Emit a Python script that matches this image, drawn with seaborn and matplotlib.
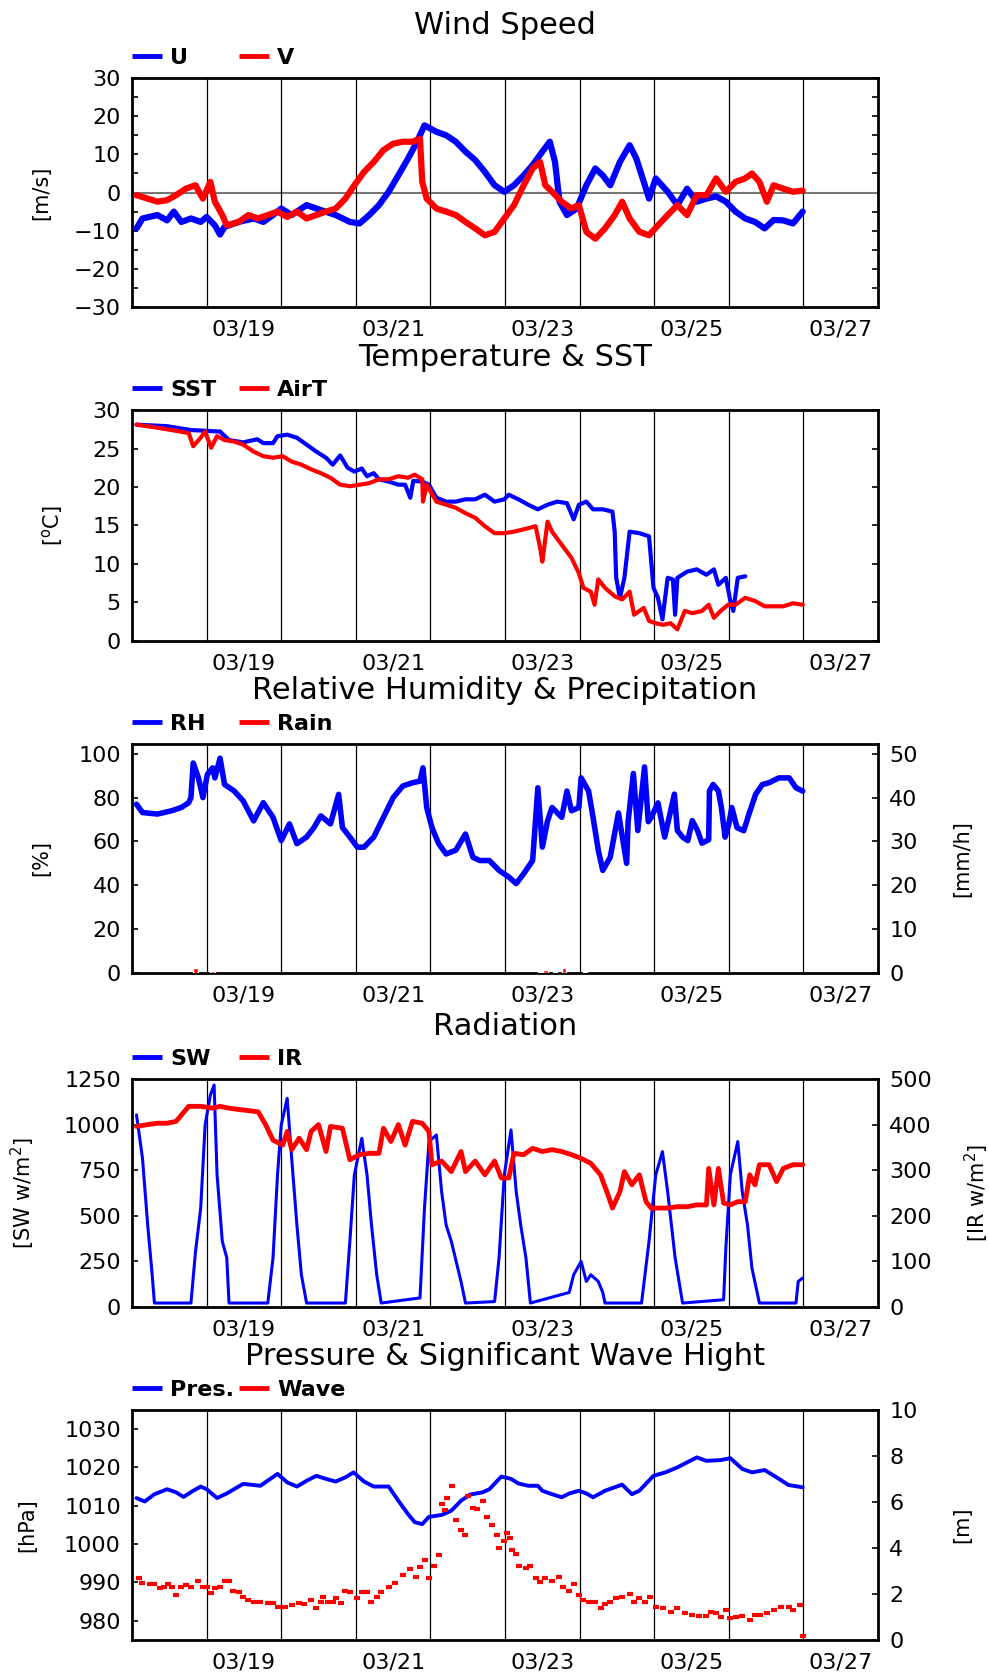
import numpy as np
import matplotlib
matplotlib.use("Agg")
import matplotlib.pyplot as plt
import seaborn as sns
from matplotlib.lines import Line2D
from matplotlib.ticker import MultipleLocator

# ---------------- data (day of March) ----------------
day_lines = [18.5, 19.5, 20.5, 21.5, 22.5, 23.5, 24.5, 25.5, 26.5]
xtick_pos = [19, 21, 23, 25, 27]
xtick_labels = ['03/19', '03/21', '03/23', '03/25', '03/27']

u_t = [17.56,17.64,17.84,17.97,18.06,18.16,18.29,18.42,18.50,18.61,18.68,18.74,18.93,19.13,19.26,19.39,19.50,19.64,19.84,20.03,20.23,20.42,20.55,20.68,20.81,20.94,21.07,21.20,21.32,21.42,21.58,21.71,21.84,21.97,22.10,22.23,22.36,22.49,22.62,22.75,22.87,23.00,23.10,23.17,23.23,23.33,23.46,23.59,23.71,23.81,23.91,24.04,24.17,24.26,24.36,24.43,24.52,24.68,24.81,24.94,25.07,25.20,25.33,25.46,25.59,25.72,25.85,25.98,26.10,26.23,26.36,26.49]
u_v = [-9.4,-6.8,-5.9,-7.3,-5.0,-7.7,-6.8,-7.7,-6.4,-8.6,-11.0,-9.0,-7.7,-6.8,-7.7,-5.9,-4.2,-5.9,-3.3,-4.6,-5.9,-7.7,-8.1,-5.9,-3.3,0.2,4.5,8.9,13.3,17.6,15.9,15.0,13.3,10.7,8.5,5.4,1.9,0.2,1.9,4.5,7.2,10.7,13.3,8.0,-2.4,-5.9,-4.2,1.9,6.3,4.5,1.9,8.0,12.4,8.9,2.8,-1.6,3.7,0.2,-3.3,1.0,-2.4,-1.6,-1.0,-2.4,-5.0,-6.8,-7.7,-9.4,-7.2,-7.3,-8.1,-5.0]

v_t = [17.56,17.71,17.84,17.97,18.09,18.22,18.35,18.45,18.55,18.61,18.71,18.77,18.93,19.06,19.19,19.32,19.45,19.58,19.71,19.84,19.97,20.10,20.23,20.36,20.48,20.61,20.74,20.87,21.00,21.13,21.26,21.36,21.39,21.45,21.58,21.71,21.84,21.97,22.10,22.23,22.36,22.49,22.62,22.75,22.87,22.97,23.04,23.13,23.26,23.39,23.49,23.59,23.71,23.84,23.97,24.07,24.17,24.30,24.43,24.55,24.68,24.81,24.94,25.07,25.20,25.33,25.46,25.59,25.72,25.81,25.91,26.01,26.10,26.23,26.36,26.49]
v_v = [-0.7,-1.6,-2.4,-2.0,-0.7,1.0,1.9,-1.6,2.8,-2.4,-5.9,-8.6,-7.7,-5.9,-6.8,-5.9,-5.0,-6.4,-5.0,-6.8,-5.9,-5.0,-4.2,-1.6,1.9,5.4,8.0,11.1,12.8,13.3,13.3,14.1,2.8,-1.6,-4.2,-5.0,-5.9,-7.7,-9.4,-11.2,-10.3,-6.8,-3.3,1.9,6.3,8.0,1.9,0.2,-2.4,-4.2,-3.3,-10.3,-12.1,-9.4,-5.9,-2.4,-6.8,-10.3,-11.2,-8.6,-5.9,-3.3,-5.9,-0.7,-0.7,3.7,0.2,2.8,3.7,5.0,2.8,-2.4,1.9,1.0,0.2,0.5]

sst_t = [17.56,17.97,18.29,18.68,18.80,18.99,19.18,19.26,19.39,19.45,19.58,19.71,19.84,19.97,20.10,20.19,20.29,20.39,20.48,20.58,20.65,20.74,20.81,20.94,21.07,21.16,21.23,21.27,21.39,21.48,21.58,21.71,21.84,21.97,22.10,22.23,22.36,22.49,22.55,22.68,22.81,22.94,23.07,23.20,23.33,23.42,23.49,23.59,23.68,23.81,23.94,23.97,23.99,24.04,24.10,24.17,24.30,24.43,24.49,24.55,24.61,24.68,24.75,24.78,24.81,24.94,25.07,25.20,25.30,25.36,25.46,25.52,25.56,25.62,25.72]
sst_v = [28.1,27.9,27.4,27.2,26.1,25.8,26.2,25.7,25.7,26.6,26.8,26.4,25.5,24.6,23.8,22.9,24.1,22.5,22.0,22.4,21.4,21.8,21.0,20.7,20.3,20.3,18.6,20.8,20.7,20.3,18.6,18.1,18.1,18.4,18.4,19.0,18.1,18.4,19.0,18.4,17.7,17.1,17.7,18.1,17.9,15.8,17.7,18.1,17.1,17.1,16.8,14.2,8.2,5.6,8.2,14.2,14.0,13.6,6.9,5.6,2.8,8.2,8.0,3.4,8.2,9.0,9.3,8.6,9.3,7.3,8.2,5.2,3.9,8.2,8.4]

at_t = [17.56,17.84,18.09,18.26,18.32,18.42,18.48,18.56,18.64,18.74,18.87,18.99,19.13,19.26,19.39,19.52,19.64,19.77,19.90,20.03,20.16,20.29,20.42,20.55,20.68,20.81,20.94,21.07,21.20,21.29,21.39,21.40,21.45,21.58,21.71,21.84,21.97,22.10,22.23,22.36,22.49,22.62,22.75,22.91,22.97,23.00,23.07,23.13,23.26,23.39,23.49,23.55,23.65,23.70,23.75,23.84,23.97,24.07,24.17,24.23,24.36,24.43,24.52,24.62,24.72,24.81,24.91,25.01,25.14,25.23,25.30,25.39,25.49,25.59,25.72,25.85,25.98,26.10,26.23,26.36,26.49]
at_v = [28.1,27.7,27.3,27.0,25.3,26.4,27.2,25.1,26.6,26.1,25.9,25.5,24.6,24.0,23.8,24.0,23.3,22.9,22.3,21.8,21.2,20.3,20.1,20.3,20.5,21.0,21.0,21.4,21.2,21.6,21.0,18.1,20.3,18.1,17.7,17.3,16.6,16.0,14.9,14.0,14.0,14.2,14.5,14.9,12.1,10.3,15.5,14.2,12.5,10.8,8.8,6.9,6.4,4.7,8.0,6.9,5.8,5.4,6.4,3.4,4.3,2.6,2.3,2.1,2.3,1.5,3.9,3.6,3.9,4.7,3.0,3.9,4.7,4.7,5.6,5.2,4.5,4.5,4.5,4.9,4.7]

rh_t = [17.56,17.64,17.84,18.03,18.16,18.26,18.29,18.32,18.39,18.45,18.51,18.58,18.61,18.68,18.74,18.87,18.99,19.13,19.26,19.39,19.50,19.61,19.71,19.84,19.94,20.03,20.16,20.27,20.32,20.42,20.52,20.61,20.74,20.87,21.00,21.13,21.26,21.36,21.40,21.45,21.52,21.61,21.71,21.84,21.97,22.07,22.16,22.29,22.42,22.55,22.65,22.75,22.87,22.94,23.00,23.07,23.13,23.26,23.33,23.39,23.49,23.52,23.62,23.68,23.75,23.81,23.91,24.02,24.13,24.15,24.22,24.28,24.37,24.42,24.46,24.55,24.64,24.70,24.77,24.81,24.88,24.95,25.01,25.08,25.14,25.23,25.24,25.29,25.36,25.40,25.45,25.50,25.54,25.61,25.70,25.77,25.86,25.95,26.04,26.17,26.31,26.40,26.49]
rh_v = [77.0,73.2,72.5,74.0,75.5,77.7,80.0,95.8,89.0,80.0,90.6,93.6,89.0,98.0,86.0,83.0,78.5,69.4,77.7,71.0,60.4,68.0,59.0,62.0,66.4,71.7,68.0,81.5,66.4,62.0,57.4,57.4,62.0,71.0,80.0,85.3,86.8,87.5,93.6,75.5,66.4,59.0,54.3,56.0,63.4,52.8,51.3,51.3,46.8,43.8,40.8,45.3,51.3,84.5,57.4,69.4,75.5,71.0,83.0,74.0,75.5,89.0,83.0,71.0,56.0,46.8,52.8,73.0,50.0,69.0,91.0,65.0,94.0,69.0,71.0,77.6,62.0,71.0,81.6,65.0,62.0,60.4,69.5,65.0,59.2,60.8,83.0,86.0,83.0,75.5,62.0,68.0,75.5,66.3,64.9,72.5,81.6,86.0,86.8,89.0,89.0,84.5,83.0]

rain_t = [18.35, 18.58, 22.97, 23.04, 23.17, 23.29, 23.57]
rain_v = [1.1, 0.4, 0.3, 0.6, 0.3, 1.1, 0.2]

sw_t = [17.56,17.64,17.71,17.77,17.80,18.29,18.35,18.42,18.48,18.55,18.60,18.64,18.71,18.77,18.80,19.32,19.39,19.45,19.50,19.58,19.64,19.71,19.77,19.84,20.36,20.42,20.48,20.58,20.65,20.71,20.78,20.84,21.36,21.42,21.48,21.58,21.65,21.71,21.78,21.91,21.97,22.36,22.42,22.49,22.58,22.65,22.71,22.78,22.84,23.36,23.42,23.52,23.59,23.65,23.75,23.81,23.84,24.33,24.43,24.52,24.61,24.68,24.78,24.88,25.43,25.46,25.52,25.62,25.68,25.75,25.81,25.85,25.91,26.40,26.43,26.49]
sw_v = [1053,816,450,177,22,22,300,540,998,1162,1217,724,360,270,22,22,270,724,998,1144,816,450,177,22,22,360,724,925,724,450,177,22,50,540,907,943,632,450,360,140,22,30,270,724,971,632,450,270,22,80,177,250,140,177,140,80,22,22,360,724,852,632,270,22,40,323,724,907,632,450,213,137,22,22,140,159]

ir_t = [17.56,17.71,17.84,17.97,18.09,18.26,18.42,18.58,18.68,18.80,18.99,19.19,19.29,19.39,19.52,19.58,19.64,19.74,19.84,19.90,20.00,20.10,20.16,20.32,20.42,20.55,20.68,20.81,20.87,20.97,21.07,21.16,21.26,21.39,21.48,21.52,21.65,21.78,21.91,21.97,22.10,22.23,22.36,22.45,22.55,22.62,22.75,22.87,23.00,23.13,23.26,23.39,23.52,23.65,23.78,23.88,23.94,24.04,24.10,24.20,24.30,24.39,24.46,24.55,24.68,24.81,24.94,25.07,25.20,25.23,25.30,25.36,25.43,25.52,25.62,25.72,25.78,25.85,25.91,26.04,26.14,26.23,26.36,26.49]
ir_v = [396,400,403,403,407,440,440,436,440,436,432,428,400,366,355,385,345,370,345,385,400,341,396,392,323,334,337,337,392,363,400,355,407,403,385,312,320,297,341,297,320,290,320,283,283,337,334,348,341,345,341,334,326,315,290,246,217,253,297,268,290,231,217,217,217,220,220,224,224,304,224,304,228,224,231,231,290,268,312,312,275,304,312,312]

p_t = [17.56,17.67,17.80,17.97,18.09,18.19,18.32,18.42,18.50,18.64,18.77,18.99,19.22,19.45,19.58,19.71,19.84,19.97,20.10,20.23,20.36,20.47,20.61,20.74,20.94,21.07,21.20,21.29,21.39,21.48,21.65,21.78,21.91,22.03,22.20,22.29,22.45,22.58,22.68,22.81,22.94,23.00,23.13,23.26,23.36,23.49,23.59,23.68,23.84,24.07,24.20,24.30,24.49,24.65,24.81,25.07,25.20,25.39,25.52,25.68,25.81,25.98,26.14,26.30,26.49]
p_v = [1012.0,1011.1,1013.0,1014.3,1013.5,1012.3,1013.9,1015.0,1014.3,1012.0,1013.2,1015.7,1015.2,1018.3,1016.1,1015.0,1016.5,1017.8,1017.0,1016.3,1017.4,1018.7,1016.3,1015.0,1015.0,1011.3,1007.8,1005.7,1005.2,1007.1,1007.6,1008.7,1011.3,1012.9,1013.5,1014.3,1017.6,1017.0,1015.8,1015.2,1015.2,1013.9,1013.0,1012.2,1013.2,1013.9,1013.2,1012.2,1013.9,1015.5,1013.0,1013.9,1017.8,1018.7,1020.0,1022.6,1021.7,1021.9,1022.4,1019.6,1018.7,1019.3,1017.4,1015.4,1014.8]

w_t = [17.59,17.64,17.74,17.80,17.87,17.93,17.98,18.03,18.09,18.16,18.22,18.29,18.39,18.45,18.51,18.56,18.61,18.68,18.74,18.80,18.86,18.93,18.99,19.06,19.14,19.22,19.32,19.39,19.45,19.55,19.64,19.74,19.81,19.90,19.97,20.03,20.06,20.13,20.19,20.23,20.30,20.36,20.42,20.52,20.58,20.65,20.71,20.78,20.84,20.94,21.03,21.13,21.23,21.31,21.36,21.43,21.48,21.55,21.61,21.65,21.70,21.72,21.79,21.84,21.91,21.97,22.00,22.07,22.13,22.20,22.26,22.33,22.39,22.42,22.49,22.52,22.56,22.60,22.65,22.69,22.78,22.84,22.91,22.97,23.04,23.13,23.23,23.28,23.36,23.42,23.49,23.55,23.62,23.71,23.78,23.84,23.91,23.99,24.07,24.17,24.23,24.30,24.37,24.44,24.52,24.62,24.72,24.81,24.91,25.01,25.10,25.20,25.26,25.33,25.39,25.46,25.52,25.59,25.68,25.78,25.85,25.92,26.01,26.10,26.20,26.30,26.36,26.45,26.49]
w_v = [2.71,2.49,2.43,2.42,2.25,2.32,2.43,2.29,1.96,2.32,2.39,2.29,2.58,2.29,2.28,2.06,2.26,2.29,2.54,2.54,2.13,2.10,1.87,1.74,1.64,1.67,1.59,1.59,1.41,1.45,1.52,1.62,1.55,1.74,1.38,1.67,1.87,1.67,1.67,1.81,1.59,2.14,2.07,1.84,2.07,2.07,1.67,1.88,2.10,2.32,2.46,2.83,3.09,2.75,3.19,3.46,2.68,3.23,3.70,5.90,5.65,6.16,6.67,5.22,4.78,4.54,6.26,5.72,5.70,6.06,5.36,5.00,4.54,4.01,4.28,4.64,4.45,3.90,3.72,3.20,3.12,3.20,2.71,2.51,2.71,2.58,2.74,2.32,2.13,2.43,1.96,1.74,1.67,1.67,1.38,1.55,1.67,1.81,1.88,1.99,1.67,1.84,1.67,1.88,1.41,1.38,1.23,1.38,1.16,1.09,1.06,1.06,1.23,1.16,1.01,1.30,0.94,1.01,1.06,0.87,1.09,1.09,1.16,1.32,1.45,1.45,1.32,1.52,0.19]

# ---------------- style ----------------
sns.set_theme(style="white")
plt.rcParams['font.family'] = ['DejaVu Sans']
plt.rcParams['mathtext.default'] = 'regular'
plt.rcParams['text.color'] = 'black'
plt.rcParams['axes.labelcolor'] = 'black'
plt.rcParams['xtick.color'] = 'black'
plt.rcParams['ytick.color'] = 'black'
BLUE = '#0000ff'
RED = '#ff0000'

fig = plt.figure(figsize=(9.89, 16.77), dpi=100)
L, W = 0.1335, 0.7543
rects = [(0.8169, 0.1366), (0.6178, 0.1377), (0.4198, 0.1366), (0.2206, 0.1360), (0.0221, 0.1372)]
axes = [fig.add_axes([L, b, W, h]) for b, h in rects]


def style(ax, title, ylabel, ylab_x, ylim, yticks, right_ticks=True):
    ax.set_xlim(17.5, 27.5)
    ax.set_ylim(*ylim)
    ax.set_yticks(yticks)
    ax.set_xticks(xtick_pos)
    ax.set_xticklabels(xtick_labels)
    for d in day_lines:
        ax.axvline(d, color='black', lw=0.9, zorder=1)
    ax.tick_params(axis='x', length=0, pad=9, labelsize=16, bottom=True, colors='black')
    ax.tick_params(axis='y', which='both', direction='in', length=4.5, width=1.2,
                   labelsize=16, left=True, right=right_ticks, pad=8, colors='black')
    for s in ax.spines.values():
        s.set_color('black')
        s.set_linewidth(2.0)
    ax.set_title(title, fontsize=22, pad=32, color='black')
    ax.set_ylabel(ylabel, fontsize=15, color='black')
    ax.yaxis.set_label_coords(ylab_x, 0.5)
    ax.set_xlabel('')


def legend(ax, entries, h_px):
    y = 1 + 22.0 / h_px
    slots = [(0.0, 0.0402, 0.0509), (0.1434, 0.1836, 0.1944)]
    for (lab, col), (x0, x1, xt) in zip(entries, slots):
        ax.add_line(Line2D([x0, x1], [y, y], transform=ax.transAxes, color=col, lw=3.5,
                           clip_on=False, solid_capstyle='butt'))
        ax.text(xt, y - 8.0 / h_px, lab, transform=ax.transAxes, fontsize=16,
                fontweight='bold', va='baseline', ha='left', color='black')


def twin_style(ax2, ylabel, ylab_x, ylim, yticks):
    ax2.set_ylim(*ylim)
    ax2.set_yticks(yticks)
    ax2.tick_params(axis='y', direction='in', length=4.5, width=1.2, labelsize=16,
                    right=True, left=False, pad=8, colors='black')
    ax2.grid(False)
    for s in ax2.spines.values():
        s.set_visible(False)
    ax2.set_ylabel(ylabel, fontsize=15, color='black')
    ax2.yaxis.set_label_coords(ylab_x, 0.5)


# ---- Panel 1: wind
ax = axes[0]
ax.axhline(0, color='#777777', lw=1.5, zorder=1)
sns.lineplot(x=u_t, y=u_v, ax=ax, color=BLUE, lw=4.5, estimator=None, sort=False, legend=False, zorder=3)
sns.lineplot(x=v_t, y=v_v, ax=ax, color=RED, lw=4.5, estimator=None, sort=False, legend=False, zorder=4)
style(ax, 'Wind Speed', '[m/s]', -0.1086, (-30, 30), [-30, -20, -10, 0, 10, 20, 30])
ax.yaxis.set_minor_locator(MultipleLocator(5))
legend(ax, [('U', BLUE), ('V', RED)], 229)

# ---- Panel 2: temperature
ax = axes[1]
sns.lineplot(x=sst_t, y=sst_v, ax=ax, color=BLUE, lw=3.0, estimator=None, sort=False, legend=False, zorder=3)
sns.lineplot(x=at_t, y=at_v, ax=ax, color=RED, lw=3.0, estimator=None, sort=False, legend=False, zorder=4)
style(ax, 'Temperature & SST', '[$^{\\rm o}$C]', -0.0898, (0, 30), [0, 5, 10, 15, 20, 25, 30])
legend(ax, [('SST', BLUE), ('AirT', RED)], 231)

# ---- Panel 3: RH & rain
ax = axes[2]
sns.lineplot(x=rh_t, y=rh_v, ax=ax, color=BLUE, lw=4.0, estimator=None, sort=False, legend=False, zorder=3)
style(ax, 'Relative Humidity & Precipitation', '[%]', -0.1086, (0, 104.5), [0, 20, 40, 60, 80, 100], right_ticks=False)
ax2 = ax.twinx()
ax2.bar(rain_t, rain_v, width=0.06, color=RED, zorder=3)
twin_style(ax2, '[mm/h]', 1.099, (0, 52.25), [0, 10, 20, 30, 40, 50])
ax2.set_xlim(17.5, 27.5)
legend(ax, [('RH', BLUE), ('Rain', RED)], 229)

# ---- Panel 4: radiation
ax = axes[3]
sns.lineplot(x=sw_t, y=sw_v, ax=ax, color=BLUE, lw=2.2, estimator=None, sort=False, legend=False, zorder=3)
style(ax, 'Radiation', '[SW w/m$^2$]', -0.1273, (0, 1250), [0, 250, 500, 750, 1000, 1250], right_ticks=False)
ax2 = ax.twinx()
sns.lineplot(x=ir_t, y=ir_v, ax=ax2, color=RED, lw=3.5, estimator=None, sort=False, legend=False, zorder=3)
twin_style(ax2, '[IR w/m$^2$]', 1.113, (0, 500), [0, 100, 200, 300, 400, 500])
ax2.set_xlim(17.5, 27.5)
ax2.set_xlabel('')
legend(ax, [('SW', BLUE), ('IR', RED)], 228)

# ---- Panel 5: pressure & wave
ax = axes[4]
sns.lineplot(x=p_t, y=p_v, ax=ax, color=BLUE, lw=2.8, estimator=None, sort=False, legend=False, zorder=3)
style(ax, 'Pressure & Significant Wave Hight', '[hPa]', -0.1273, (975, 1035), [980, 990, 1000, 1010, 1020, 1030], right_ticks=False)
ax2 = ax.twinx()
ax2.plot(w_t, w_v, ls='none', marker='_', ms=5, mew=3, color=RED, zorder=3)
twin_style(ax2, '[m]', 1.099, (0, 10), [0, 2, 4, 6, 8, 10])
ax2.set_xlim(17.5, 27.5)
legend(ax, [('Pres.', BLUE), ('Wave', RED)], 230)

fig.savefig('out.png', dpi=100)
